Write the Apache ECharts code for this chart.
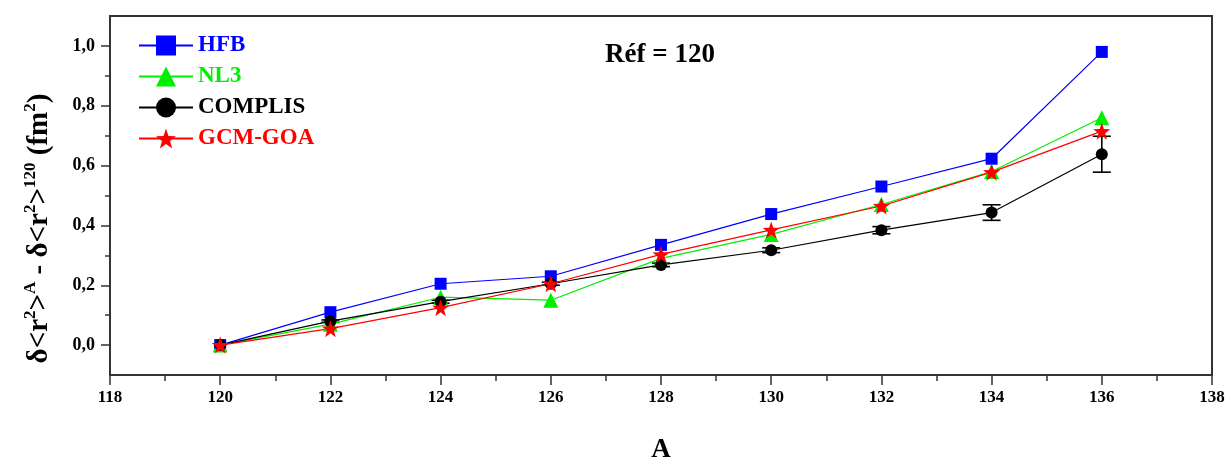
<!DOCTYPE html>
<html>
<head>
<meta charset="utf-8">
<script src="https://cdn.jsdelivr.net/npm/echarts@6/dist/echarts.min.js"></script>
<style>html,body{margin:0;padding:0;background:#fff}#c{width:1232px;height:459px}</style>
</head>
<body>
<div id="c"></div>
<script>
const massNumbers = [120, 122, 124, 126, 128, 130, 132, 134, 136];
const hfb      = [0, 0.110, 0.205, 0.230, 0.335, 0.438, 0.530, 0.623, 0.980];
const nl3      = [0, 0.070, 0.160, 0.150, 0.290, 0.370, 0.470, 0.580, 0.760];
const complis  = [0, 0.080, 0.145, 0.205, 0.268, 0.317, 0.384, 0.443, 0.638];
const complisErr = [0, 0.004, 0.005, 0.005, 0.006, 0.008, 0.012, 0.026, 0.060];
const gcmGoa   = [0, 0.055, 0.125, 0.205, 0.303, 0.385, 0.465, 0.578, 0.715];
const yLabelValues = [0, 0.2, 0.4, 0.6, 0.8, 1.0];
const yMinorValues = [0.1, 0.3, 0.5, 0.7, 0.9];
const seriesNames = ['HFB', 'NL3', 'COMPLIS', 'GCM-GOA'];
const seriesColors = ['#0000ff', '#00ee00', '#000000', '#ff0000'];

const pairs = arr => massNumbers.map((x, i) => [x, arr[i]]);
const starPath = 'path://M0,-10 L2.35,-3.24 L9.51,-3.09 L3.80,1.24 L5.88,8.09 L0,4 L-5.88,8.09 L-3.80,1.24 L-9.51,-3.09 L-2.35,-3.24 Z';
const serif = '"Liberation Serif", "DejaVu Serif", serif';

const chart = echarts.init(document.getElementById('c'), null, {renderer: 'canvas'});
chart.setOption({
  animation: false,
  backgroundColor: '#fff',
  title: {
    text: 'Réf = 120', left: 655, top: 37, textAlign: 'center',
    textStyle: {fontFamily: serif, fontWeight: 'bold', fontSize: 27, color: '#000'}
  },
  grid: {left: 110, right: 20, top: 16, bottom: 84, outerBoundsMode: 'none', containLabel: false,
    show: true, borderColor: '#333', borderWidth: 2, backgroundColor: 'transparent'},
  legend: {
    orient: 'vertical', left: 133, top: 29, itemWidth: 54, itemHeight: 25, itemGap: 8,
    data: seriesNames.map((n, i) => ({name: n, textStyle: {color: seriesColors[i]}})),
    textStyle: {fontFamily: serif, fontWeight: 'bold', fontSize: 23}
  },
  xAxis: {
    type: 'value', min: 118, max: 138, interval: 2,
    name: 'A', nameLocation: 'middle', nameGap: 62,
    nameTextStyle: {fontFamily: serif, fontWeight: 'bold', fontSize: 27, color: '#000'},
    axisLine: {onZero: false, lineStyle: {color: '#333', width: 2}},
    axisTick: {length: 10, lineStyle: {color: '#333', width: 1.5}},
    minorTick: {show: true, splitNumber: 2, length: 6, lineStyle: {color: '#333', width: 1.5}},
    axisLabel: {fontFamily: serif, fontWeight: 'bold', fontSize: 17, color: '#000', margin: 14},
    splitLine: {show: false}
  },
  yAxis: [{
    type: 'value', min: -0.1, max: 1.1,
    name: '{m|δ<r}{s|2}{m|>}{s|A}{m| - δ<r}{s|2}{m|>}{s|120}{m| (fm}{s|2}{m|)}',
    nameLocation: 'middle', nameRotate: 90, nameGap: 52,
    nameTextStyle: {
      padding: [0, 66, 0, 0],
      rich: {
        m: {fontFamily: serif, fontWeight: 'bold', fontSize: 29, color: '#000', lineHeight: 36, verticalAlign: 'middle'},
        s: {fontFamily: serif, fontWeight: 'bold', fontSize: 17, color: '#000', lineHeight: 18, verticalAlign: 'top'}
      }
    },
    axisLine: {onZero: false, lineStyle: {color: '#333', width: 2}},
    axisTick: {customValues: yLabelValues, length: 9, lineStyle: {color: '#333', width: 1.5}},
    axisLabel: {customValues: yLabelValues, fontFamily: serif, fontWeight: 'bold', fontSize: 18, color: '#000', margin: 15,
      formatter: v => v.toFixed(1).replace('.', ',')},
    splitLine: {show: false}
  }, {
    type: 'value', min: -0.1, max: 1.1, position: 'left',
    axisLine: {show: false},
    axisTick: {customValues: yMinorValues, length: 5, lineStyle: {color: '#333', width: 1.5}},
    axisLabel: {show: false},
    splitLine: {show: false}
  }],
  series: [
    {name: 'HFB', type: 'line', data: pairs(hfb), symbol: 'rect', symbolSize: 12,
      color: seriesColors[0], lineStyle: {width: 1.2}},
    {name: 'NL3', type: 'line', data: pairs(nl3), symbol: 'triangle', symbolSize: 15,
      color: seriesColors[1], lineStyle: {width: 1.2}},
    {name: 'COMPLIS', type: 'line', data: pairs(complis), symbol: 'circle', symbolSize: 12,
      color: seriesColors[2], lineStyle: {width: 1.2}},
    {name: 'COMPLIS-err', type: 'custom', data: massNumbers.map((x, i) => [x, complis[i], complisErr[i]]),
      z: 3,
      renderItem: (params, api) => {
        const x = api.value(0), y = api.value(1), e = api.value(2);
        if (!e) return null;
        const top = api.coord([x, y + e]), bot = api.coord([x, y - e]);
        const hw = 9;
        const st = {stroke: '#000', lineWidth: 1.6};
        return {type: 'group', children: [
          {type: 'line', shape: {x1: top[0], y1: top[1], x2: bot[0], y2: bot[1]}, style: st},
          {type: 'line', shape: {x1: top[0] - hw, y1: top[1], x2: top[0] + hw, y2: top[1]}, style: st},
          {type: 'line', shape: {x1: bot[0] - hw, y1: bot[1], x2: bot[0] + hw, y2: bot[1]}, style: st}
        ]};
      }
    },
    {name: 'GCM-GOA', type: 'line', data: pairs(gcmGoa), symbol: starPath, symbolSize: 17,
      color: seriesColors[3], lineStyle: {width: 1.2}}
  ]
});
</script>
</body>
</html>
